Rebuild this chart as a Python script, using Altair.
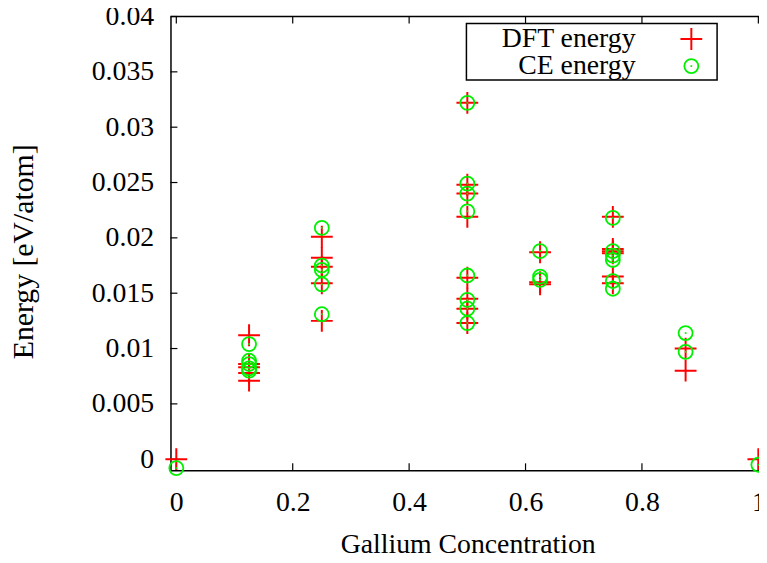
import altair as alt
import pandas as pd

# ---------------- data ----------------
concentration = [0.0,
                 0.125, 0.125, 0.125, 0.125, 0.125,
                 0.25, 0.25, 0.25, 0.25, 0.25,
                 0.5, 0.5, 0.5, 0.5, 0.5, 0.5, 0.5, 0.5,
                 0.625, 0.625, 0.625,
                 0.75, 0.75, 0.75, 0.75, 0.75, 0.75,
                 0.875, 0.875,
                 1.0]
dft_energy = [0.0,
              0.0112, 0.0086, 0.0083, 0.0078, 0.0071,
              0.0201, 0.0182, 0.0174, 0.0159, 0.0125,
              0.0322, 0.0248, 0.0240, 0.0219, 0.0164, 0.0145, 0.0136, 0.0123,
              0.0187, 0.0160, 0.0158,
              0.0219, 0.0190, 0.0188, 0.0186, 0.0165, 0.0159,
              0.0100, 0.0080,
              0.0]
ce_energy = [-0.0008,
             0.0104, 0.0089, 0.0086, 0.0082, 0.0080,
             0.0209, 0.0175, 0.0171, 0.0158, 0.0131,
             0.0322, 0.0249, 0.0240, 0.0224, 0.0166, 0.0144, 0.0136, 0.0123,
             0.0188, 0.0165, 0.0162,
             0.0218, 0.0188, 0.0184, 0.0180, 0.0161, 0.0154,
             0.0114, 0.0097,
             -0.0005]
x_ticks = [0.0, 0.2, 0.4, 0.6, 0.8, 1.0]
y_ticks = [0.0, 0.005, 0.01, 0.015, 0.02, 0.025, 0.03, 0.035, 0.04]
legend_labels = ["DFT energy", "CE energy"]
x_title = "Gallium Concentration"
y_title = "Energy [eV/atom]"

# ---------------- style ----------------
FONT = "Liberation Serif"
FS = 28
RED = "#ff0000"
GREEN = "#00f000"
PLUS = "M-1,0L1,0M0,-1L0,1"
W, H = 594, 458

df_dft = pd.DataFrame({"c": concentration, "e": dft_energy})
df_ce = pd.DataFrame({"c": concentration, "e": ce_energy})

x_scale = alt.Scale(domain=[-0.01, 1.0011], nice=False, zero=False)
y_scale = alt.Scale(domain=[-0.001, 0.04], nice=False, zero=False)

x_axis = alt.Axis(values=x_ticks, format="~g", title=x_title,
                  labelPadding=19, titleX=300, titleY=75,
                  titleBaseline="middle", titleAlign="center")
y_axis = alt.Axis(values=y_ticks, format="~g", title=y_title,
                  labelPadding=17, labelBaseline="middle",
                  titleFontSize=30, titleAngle=270, titleX=-148, titleY=237,
                  titleBaseline="middle", titleAlign="center")

x_enc = alt.X("c:Q", scale=x_scale, axis=x_axis)
y_enc = alt.Y("e:Q", scale=y_scale, axis=y_axis)

# inward ticks and top border
bottom_ticks = alt.Chart(pd.DataFrame({"c": x_ticks})).mark_rule(
    color="black", strokeWidth=1.2).encode(x=x_enc, y=alt.value(H), y2=alt.value(H - 7))
top_ticks = alt.Chart(pd.DataFrame({"c": x_ticks})).mark_rule(
    color="black", strokeWidth=1.2).encode(x=x_enc, y=alt.value(0), y2=alt.value(7))
left_ticks = alt.Chart(pd.DataFrame({"e": y_ticks})).mark_rule(
    color="black", strokeWidth=1.2).encode(y=y_enc, x=alt.value(0), x2=alt.value(7))
top_border = alt.Chart(pd.DataFrame({"a": [0]})).mark_rule(
    color="black", strokeWidth=1.5).encode(x=alt.value(0), x2=alt.value(W), y=alt.value(0))

# data
dft = alt.Chart(df_dft).mark_point(shape=PLUS, size=484, filled=False, stroke=RED,
                                   strokeWidth=2, opacity=1).encode(x=x_enc, y=y_enc)
ce = alt.Chart(df_ce).mark_point(shape="circle", size=200, filled=False, stroke=GREEN,
                                 strokeWidth=1.8, opacity=1).encode(x=x_enc, y=y_enc)
ce_dot = alt.Chart(df_ce).mark_point(shape="square", size=3, filled=True, fill=GREEN,
                                     opacity=1).encode(x=x_enc, y=y_enc)

# legend (gnuplot style key)
one = pd.DataFrame({"a": [0]})
key_box = alt.Chart(one).mark_rect(fill="transparent", stroke="black", strokeWidth=1.5).encode(
    x=alt.value(298.7), x2=alt.value(551.7), y=alt.value(7), y2=alt.value(64))
key_t1 = alt.Chart(pd.DataFrame({"t": [legend_labels[0]]})).mark_text(
    align="right", baseline="middle", font=FONT, fontSize=FS, color="black").encode(
    text="t:N", x=alt.value(469.4), y=alt.value(22.7))
key_t2 = alt.Chart(pd.DataFrame({"t": [legend_labels[1]]})).mark_text(
    align="right", baseline="middle", font=FONT, fontSize=FS, color="black").encode(
    text="t:N", x=alt.value(469.4), y=alt.value(49.7))
key_s1 = alt.Chart(one).mark_point(shape=PLUS, size=484, filled=False, stroke=RED,
                                   strokeWidth=2, opacity=1).encode(
    x=alt.value(525.7), y=alt.value(22.7))
key_s2 = alt.Chart(one).mark_point(shape="circle", size=200, filled=False, stroke=GREEN,
                                   strokeWidth=1.8, opacity=1).encode(
    x=alt.value(525.7), y=alt.value(50))
key_s2d = alt.Chart(one).mark_point(shape="square", size=3, filled=True, fill=GREEN,
                                    opacity=1).encode(x=alt.value(525.7), y=alt.value(50))

chart = alt.layer(
    bottom_ticks, top_ticks, left_ticks, top_border,
    dft, ce, ce_dot,
    key_box, key_t1, key_t2, key_s1, key_s2, key_s2d
).properties(
    width=W, height=H,
    padding={"left": 164, "top": 6, "right": 0, "bottom": 92},
    autosize=alt.AutoSizeParams(type="none"),
    background="white",
).configure_view(
    stroke="transparent"
).configure_axis(
    grid=False, ticks=False, tickSize=0, domain=True, domainColor="black",
    domainWidth=1.5, labelFont=FONT, labelFontSize=FS, labelColor="black",
    labelFlush=False, labelOverlap=False, titleFont=FONT, titleFontSize=FS,
    titleFontWeight="normal", titleColor="black"
)

chart.save("out.html", embed_options={"renderer": "svg", "actions": False})
